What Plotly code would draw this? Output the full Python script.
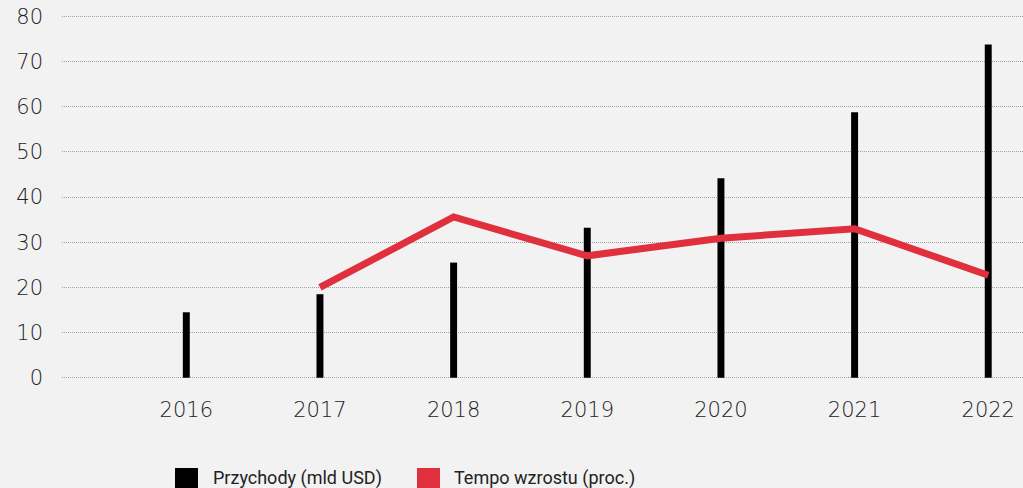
import plotly.graph_objects as go

# dane
years = [2016, 2017, 2018, 2019, 2020, 2021, 2022]
przychody = [14.5, 18.5, 25.5, 33.2, 44.2, 58.8, 73.8]
growth_years = [2017, 2018, 2019, 2020, 2021, 2022]
tempo_wzrostu = [20.0, 35.6, 27.0, 30.9, 33.0, 22.7]
y_ticks = [0, 10, 20, 30, 40, 50, 60, 70, 80]
legend_names = ["Przychody (mld USD)", "Tempo wzrostu (proc.)"]

BG = "#f2f2f2"
RED = "#e0303e"
TICK_FONT = dict(family="DejaVu Sans", size=21, color="#222", weight=300)

fig = go.Figure()
fig.add_trace(go.Bar(x=years, y=przychody, width=0.052,
                     marker=dict(color="black", line=dict(width=0)),
                     name=legend_names[0]))
fig.add_trace(go.Scatter(x=growth_years, y=tempo_wzrostu, mode="lines",
                         line=dict(color=RED, width=7),
                         name=legend_names[1]))

# legenda rysowana recznie (duze kwadraty), pozycje w pikselach
PL, PT, PW, PH = 62, 12, 961, 368


def px_x(v):
    return (v - PL) / PW


def px_y(v):
    return (PT + PH - v) / PH


legend_items = [(175, 198, 211, "black", legend_names[0]),
                (417, 440, 452, RED, legend_names[1])]
for x0, x1, xt, col, txt in legend_items:
    fig.add_shape(type="rect", xref="paper", yref="paper",
                  x0=px_x(x0), x1=px_x(x1), y0=px_y(468), y1=px_y(495),
                  fillcolor=col, line=dict(width=0))
    fig.add_annotation(text=txt, xref="paper", yref="paper", x=px_x(xt), y=px_y(478),
                       xanchor="left", yanchor="middle", showarrow=False,
                       font=dict(family="Roboto", size=18, color="#222"))

fig.update_layout(
    width=1023, height=488,
    margin=dict(l=PL, r=0, t=PT, b=488 - PT - PH),
    paper_bgcolor=BG, plot_bgcolor=BG,
    showlegend=False,
    xaxis=dict(range=[2015.07, 2022.26], tickvals=years,
               ticktext=[str(y) for y in years],
               showgrid=False, zeroline=False, showline=False,
               ticks="", ticklabelstandoff=15, tickfont=TICK_FONT),
    yaxis=dict(range=[-0.5, 81], tickvals=y_ticks,
               showgrid=True, gridcolor="#a0a0a0", griddash="1px,1px", gridwidth=1,
               zeroline=False, showline=False, ticks="",
               ticklabelstandoff=18, tickfont=TICK_FONT),
)

fig.write_html("out.html", config={"displayModeBar": False},
               post_script="document.body.style.margin='0';"
                           "document.body.style.background='#f2f2f2';")
